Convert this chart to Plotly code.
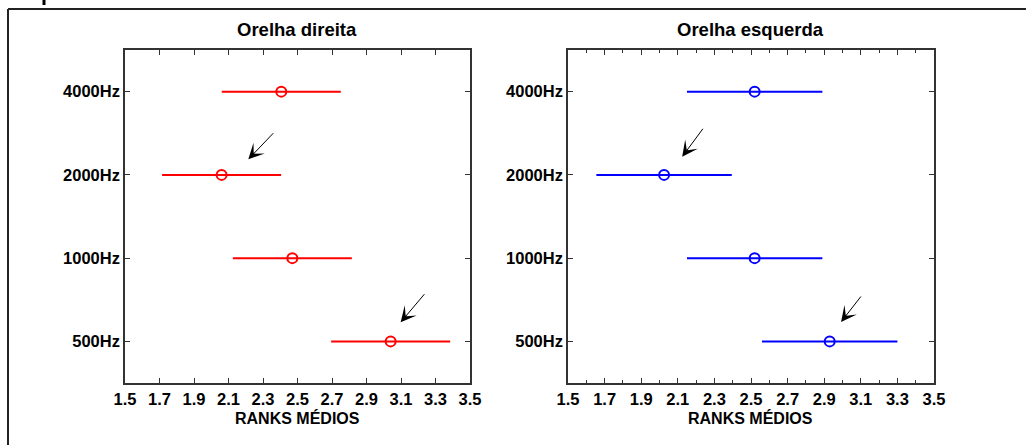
import plotly.graph_objects as go

W, H = 1026, 445

categories = ["500Hz", "1000Hz", "2000Hz", "4000Hz"]
right_ear_means = [3.04, 2.47, 2.06, 2.406]
right_ear_halfwidth = [0.345, 0.345, 0.345, 0.345]
left_ear_means = [2.93, 2.52, 2.025, 2.52]
left_ear_halfwidth = [0.37, 0.37, 0.37, 0.37]
x_ticks = [1.5, 1.7, 1.9, 2.1, 2.3, 2.5, 2.7, 2.9, 3.1, 3.3, 3.5]
panel_titles = ["Orelha direita", "Orelha esquerda"]
x_title = "RANKS MÉDIOS"

# arrows: (tail_x, tail_y, head_x, head_y) in data coordinates
arrows_right = [(2.368, 2.519, 2.215, 2.187), (3.243, 0.585, 3.098, 0.229)]
arrows_left = [(2.243, 2.571, 2.124, 2.218), (3.107, 0.557, 2.992, 0.233)]

FONT = "Liberation Sans, Arial, sans-serif"
AX = "#333333"

fig = go.Figure()

fig.add_trace(go.Scatter(
    x=right_ear_means, y=categories, xaxis="x", yaxis="y",
    mode="markers",
    marker=dict(symbol="circle-open", size=10, color="red", line=dict(width=2, color="red")),
    error_x=dict(type="data", array=right_ear_halfwidth, symmetric=True,
                 color="red", thickness=2, width=0),
    showlegend=False, hoverinfo="x+y"))

fig.add_trace(go.Scatter(
    x=left_ear_means, y=categories, xaxis="x2", yaxis="y2",
    mode="markers",
    marker=dict(symbol="circle-open", size=10, color="blue", line=dict(width=2, color="blue")),
    error_x=dict(type="data", array=left_ear_halfwidth, symmetric=True,
                 color="blue", thickness=2, width=0),
    showlegend=False, hoverinfo="x+y"))

ydom = [1 - 383 / H, 1 - 50 / H]
xdom1 = [125 / W, 470 / W]
xdom2 = [568 / W, 934 / W]

def xax(domain, anchor, minor):
    d = dict(domain=domain, anchor=anchor, range=[1.5, 3.5], automargin=False,
             tickvals=x_ticks, ticktext=[f"{v:.1f}" for v in x_ticks],
             ticks="inside", ticklen=5, tickcolor=AX, tickwidth=1,
             showline=True, linecolor=AX, linewidth=1.5, mirror="ticks",
             showgrid=False, zeroline=False,
             tickfont=dict(family=FONT, size=16.5, color="black", weight="bold"))
    if minor:
        d["minor"] = dict(dtick=0.1, tick0=1.5, ticks="inside", ticklen=3, tickcolor=AX)
    return d

def yax(domain, anchor):
    return dict(domain=domain, anchor=anchor, type="category", automargin=False,
                categoryorder="array", categoryarray=categories, range=[-0.5, 3.5],
                ticks="inside", ticklen=5, tickcolor=AX,
                showline=True, linecolor=AX, linewidth=1.5, mirror="ticks",
                showgrid=False, zeroline=False,
                tickfont=dict(family=FONT, size=16.5, color="black", weight="bold"))

annotations = []
for (tx, ty, hx, hy) in arrows_right:
    annotations.append(dict(x=hx, y=hy, ax=tx, ay=ty, xref="x", yref="y", axref="x", ayref="y",
                            showarrow=True, arrowhead=3, arrowsize=2.6, arrowwidth=1,
                            arrowcolor="black", text=""))
for (tx, ty, hx, hy) in arrows_left:
    annotations.append(dict(x=hx, y=hy, ax=tx, ay=ty, xref="x2", yref="y2", axref="x2", ayref="y2",
                            showarrow=True, arrowhead=3, arrowsize=2.6, arrowwidth=1,
                            arrowcolor="black", text=""))
for title, dom in zip(panel_titles, [xdom1, xdom2]):
    cx = (dom[0] + dom[1]) / 2
    annotations.append(dict(x=cx, y=1 - 30 / H, xref="paper", yref="paper",
                            text=f"<b>{title}</b>", showarrow=False,
                            font=dict(family=FONT, size=18.5, color="black"),
                            xanchor="center", yanchor="middle"))
    annotations.append(dict(x=cx, y=1 - 418 / H, xref="paper", yref="paper",
                            text=f"<b>{x_title}</b>", showarrow=False,
                            font=dict(family=FONT, size=16, color="black"),
                            xanchor="center", yanchor="middle"))

shapes = [
    dict(type="line", xref="paper", yref="paper", x0=8 / W, x1=1.0, y0=1 - 9 / H, y1=1 - 9 / H,
         line=dict(color="#222222", width=2)),
    dict(type="line", xref="paper", yref="paper", x0=8 / W, x1=8 / W, y0=0, y1=1 - 9 / H,
         line=dict(color="#222222", width=2)),
    dict(type="line", xref="paper", yref="paper", x0=44 / W, x1=44 / W, y0=1 - 5 / H, y1=1.0,
         line=dict(color="black", width=3)),
]

fig.update_layout(
    width=W, height=H,
    margin=dict(l=0, r=0, t=0, b=0, autoexpand=False),
    paper_bgcolor="white", plot_bgcolor="white",
    xaxis=xax(xdom1, "y", False),
    yaxis=yax(ydom, "x"),
    xaxis2=xax(xdom2, "y2", True),
    yaxis2=yax(ydom, "x2"),
    annotations=annotations,
    shapes=shapes,
)

fig.write_html("out.html", config={"displayModeBar": False},
               post_script="document.body.style.margin='0';document.body.style.overflow='hidden';")
